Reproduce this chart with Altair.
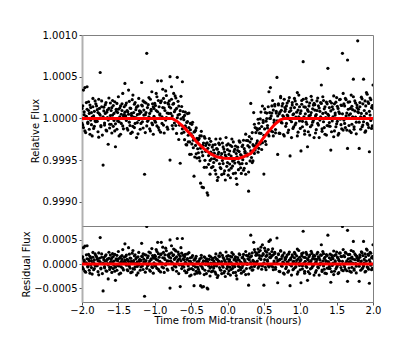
import altair as alt
import numpy as np
import pandas as pd

# observation times, in hundredths of an hour from mid-transit
time_centi_h = [
    -200, -199, -198, -197, -196, -195, -194, -193, -192, -191, -190, -189, -188, -187, -186, -185, -184, -183, -182, -181,
    -180, -179, -178, -177, -176, -175, -174, -173, -172, -171, -170, -169, -168, -167, -166, -165, -164, -163, -162, -161,
    -160, -159, -158, -157, -156, -155, -154, -153, -152, -151, -150, -149, -148, -147, -146, -145, -144, -143, -142, -141,
    -140, -139, -138, -137, -136, -135, -134, -133, -132, -131, -130, -129, -128, -127, -126, -125, -124, -123, -122, -121,
    -120, -119, -118, -117, -116, -115, -114, -113, -112, -111, -110, -109, -108, -107, -106, -105, -104, -103, -102, -101,
    -100, -99, -98, -97, -96, -95, -94, -93, -92, -91, -90, -89, -88, -87, -86, -85, -84, -83, -82, -81,
    -80, -79, -78, -77, -76, -75, -74, -73, -72, -71, -70, -69, -68, -67, -66, -65, -64, -63, -62, -61,
    -60, -59, -58, -57, -56, -55, -54, -53, -52, -51, -50, -49, -48, -47, -46, -45, -44, -43, -42, -41,
    -40, -39, -38, -37, -36, -35, -34, -33, -32, -31, -30, -29, -28, -27, -26, -25, -24, -23, -22, -21,
    -20, -19, -18, -17, -16, -15, -14, -13, -12, -11, -10, -9, -8, -7, -6, -5, -4, -3, -2, -1,
    0, 1, 2, 3, 4, 5, 6, 7, 8, 9, 10, 11, 12, 13, 14, 15, 16, 17, 18, 19,
    20, 21, 22, 23, 24, 25, 26, 27, 28, 29, 30, 31, 32, 33, 34, 35, 36, 37, 38, 39,
    40, 41, 42, 43, 44, 45, 46, 47, 48, 49, 50, 51, 52, 53, 54, 55, 56, 57, 58, 59,
    60, 61, 62, 63, 64, 65, 66, 67, 68, 69, 70, 71, 72, 73, 74, 75, 76, 77, 78, 79,
    80, 81, 82, 83, 84, 85, 86, 87, 88, 89, 90, 91, 92, 93, 94, 95, 96, 97, 98, 99,
    100, 101, 102, 103, 104, 105, 106, 107, 108, 109, 110, 111, 112, 113, 114, 115, 116, 117, 118, 119,
    120, 121, 122, 123, 124, 125, 126, 127, 128, 129, 130, 131, 132, 133, 134, 135, 136, 137, 138, 139,
    140, 141, 142, 143, 144, 145, 146, 147, 148, 149, 150, 151, 152, 153, 154, 155, 156, 157, 158, 159,
    160, 161, 162, 163, 164, 165, 166, 167, 168, 169, 170, 171, 172, 173, 174, 175, 176, 177, 178, 179,
    180, 181, 182, 183, 184, 185, 186, 187, 188, 189, 190, 191, 192, 193, 194, 195, 196, 197, 198, 199,
    200,
]

# residual flux of the first set of exposures at those times (ppm)
resid_a_ppm = [
    120, -80, 340, 45, -150, 10, 190, 380, -60, 95, -130, 160, -20, 70, -210, 140, 30, -95, 210, -40,
    -10, 105, -160, 230, 55, 550, -85, 140, -200, 20, 90, -55, 165, -140, 75, 10, -310, 120, -70, 185,
    95, -175, 40, 155, -25, 200, -65, 110, -130, 70, 260, -40, 125, -190, 50, 175, -90, 30, 140, 420,
    30, 185, -120, 80, 340, -45, 125, -180, 60, 225, -95, 15, 170, -60, 105, -230, 45, 150, -15, 90,
    -130, 75, 160, -40, 210, 100, -670, 45, 185, -90, 130, -20, 250, 60, -150, 110, 320, -75, 140, 25,
    180, -45, 95, 260, 450, -110, 140, 55, -165, 210, 20, 350, -80, 125, 190, -20, 275, 65, -130, 170,
    140, 500, 60, 230, -85, 175, 310, -40, 120, 270, -150, 530, 85, 200, -20, 160, 340, -95, 530, 110,
    -60, 150, 35, -180, 95, 210, -120, 60, -250, 130, 15, -95, 175, -30, 80, -210, 120, -150, 45, -70,
    -110, 70, -190, -450, 125, -60, 30, -470, 150, -130, 55, -200, 100, -520, -40, 170, -85, 20, -160, 90,
    120, -85, 30, -170, 210, -40, 95, -240, 60, 155, -120, 15, -200, 180, -65, 110, -150, 40, 250, -95,
    -50, 175, -140, 90, -230, 30, 145, -90, 200, -20, 110, -175, 60, -310, 135, -45, 80, 190, -120, 25,
    130, -30, 200, -140, 60, 260, -95, 15, 170, -210, 85, 140, 600, -60, 230, -120, 50, 300, -20, 180,
    220, 60, 310, -50, 175, 280, 95, -110, 400, 190, 25, 330, -70, 160, 245, 85, -30, 470, 210, 130,
    150, 260, -60, 190, 30, 240, -110, 120, 540, 70, 210, -150, 95, 280, -35, 160, 40, -190, 230, 85,
    -95, 150, 40, -170, 210, 80, -450, 125, -40, 190, -120, 55, 240, -75, 15, 170, -210, 100, 280, -30,
    60, -390, 170, -100, 230, 20, -150, 135, -45, 200, -340, 85, 150, -200, 40, 265, -80, 115, -25, 180,
    100, -175, 45, 210, -60, 150, -230, 85, 20, 180, -125, 260, -40, 115, -190, 70, 195, -85, 600, 35,
    -50, 205, 90, -160, 140, 20, -220, 175, 65, -100, 250, -35, 120, -180, 60, 230, -75, 155, 780, -140,
    175, -60, 240, 30, -140, 700, 110, -85, 200, 55, -170, 145, 20, 260, -100, 90, 185, -45, 130, 930,
    110, -45, 190, -130, 60, 235, -80, 470, 25, -165, 150, 310, -60, 200, -110, 85, 245, -25, 130, -90,
    400,
]

# residual flux of the second set of exposures at those times (ppm)
resid_b_ppm = [
    -60, 150, -110, 80, 370, -170, 25, 110, -45, 200, 60, -190, 130, -75, 15, 240, -120, 85, -30, 175,
    150, -35, 70, -225, 120, 40, -100, 210, 5, -560, 135, -80, 60, 190, -150, 100, -20, 245, -115, 35,
    -70, 130, 215, -95, 60, -150, -340, 85, 180, -30, 110, -210, 20, 150, -60, 95, 300, -125, 45, 75,
    160, -25, 95, -140, 50, 205, -85, 120, 35, -165, 280, 70, -110, 190, 10, 135, -50, -185, 240, 55,
    85, -60, 430, 150, -115, 40, 195, -170, 70, 780, -35, 165, 20, -125, 230, 90, -55, 175, -190, 120,
    -25, 155, 300, -90, 80, 215, -140, 40, 190, 450, -60, 130, 240, -175, 95, 330, 10, -105, 185, 60,
    210, -500, 125, 380, 30, -120, 190, 95, 290, -60, 150, 45, 250, -200, 110, -470, 70, 225, -35, 180,
    90, -140, 200, 20, -175, 115, -40, 235, -100, 55, -230, 140, 10, -120, -450, 95, -60, 160, -190, 30,
    45, -160, 110, -30, 180, -480, -95, 65, -220, 135, -15, 85, -500, 40, -145, 95, -250, 150, -55, 10,
    -140, 65, -35, 140, -210, 100, -280, 35, 170, -75, 225, -130, 50, -30, 135, -185, 75, -260, 20, 160,
    105, -200, 50, -65, 160, -115, 235, -30, -180, 85, -55, 150, -240, 20, 95, -135, 210, -70, 40, -190,
    -75, 145, -160, 95, 40, -220, 180, -10, 110, -440, 210, -85, 30, 165, -130, 75, 450, -50, 250, 20,
    40, 190, -85, 250, 120, -20, 350, 165, -40, 215, -440, 90, 275, -120, 180, 55, 300, -60, 140, 500,
    -30, 175, 315, -120, 60, 220, -70, 140, 20, -390, 195, 80, -160, 265, 110, -45, 185, 25, -210, 130,
    110, -60, 185, 30, -140, 250, -15, 95, -230, 160, 45, -100, 130, 210, -55, 75, 310, -165, 20, 140,
    -120, 90, 215, -35, 680, 140, -190, 55, 240, -70, 105, -160, 30, 185, -100, 70, 220, -45, 160, -230,
    165, 30, -135, 95, 245, -80, 125, -20, 190, 400, -155, 60, 215, -110, 140, 10, -200, 175, 50, -90,
    130, -95, -380, 185, -30, 110, 270, -150, 40, 195, -65, 145, -200, 80, 225, -10, 160, -125, 55, 300,
    -20, 150, -110, 225, 65, -360, 195, 40, -150, 120, 280, -70, 105, 470, -130, 210, 15, -185, 160, 80,
    70, -360, 140, 20, 255, -100, 175, -40, 95, 210, -150, 60, 290, -75, 180, -400, 40, 225, -120, 155,
    120,
]

# transit model (red curve): vertices
model_t = [-2.0, -0.76, -0.70, -0.60, -0.50, -0.42, -0.33, -0.23, -0.15, -0.05,
           0.05, 0.15, 0.22, 0.32, 0.42, 0.55, 0.65, 0.72, 0.78, 2.0]
model_ppm = [0, 0, -30, -105, -200, -285, -360, -425, -462, -478,
             -482, -480, -462, -420, -320, -170, -70, -20, 0, 0]

top_yticks = [0.9990, 0.9995, 1.0000, 1.0005, 1.0010]
bot_yticks = [-0.0005, 0.0, 0.0005]
x_ticks = [-2.0, -1.5, -1.0, -0.5, 0.0, 0.5, 1.0, 1.5, 2.0]

t = np.array(time_centi_h) / 100.0
model_at_t = np.interp(t, model_t, model_ppm)
rows = []
for res in (resid_a_ppm, resid_b_ppm):
    for ti, m, r in zip(t, model_at_t, res):
        rows.append({"t": ti, "flux": 1.0 + (m + r) * 1e-6, "resid": r * 1e-6})
pts = pd.DataFrame(rows)
model_df = pd.DataFrame({"t": model_t, "flux": [1.0 + v * 1e-6 for v in model_ppm]})
zero_df = pd.DataFrame({"t": [model_t[0], model_t[-1]], "resid": [0.0, 0.0]})

xscale = alt.Scale(domain=[-2, 2], nice=False, zero=False)
W = 291
DOT = 10

top_pts = alt.Chart(pts).mark_circle(size=DOT, color="black", opacity=1, clip=True).encode(
    x=alt.X("t:Q", scale=xscale, axis=None),
    y=alt.Y("flux:Q", scale=alt.Scale(domain=[0.99871, 1.0010], nice=False, zero=False),
            axis=alt.Axis(values=top_yticks, tickCount=len(top_yticks), format=".4f",
                          title="Relative Flux")),
)
top_line = alt.Chart(model_df).mark_line(color="#ff0000", strokeWidth=3, clip=True).encode(
    x=alt.X("t:Q", scale=xscale), y=alt.Y("flux:Q"))
top = alt.layer(top_pts, top_line).properties(width=W, height=191)

bot_pts = alt.Chart(pts).mark_circle(size=DOT, color="black", opacity=1, clip=True).encode(
    x=alt.X("t:Q", scale=xscale,
            axis=alt.Axis(values=x_ticks, tickCount=len(x_ticks), format=".1f",
                          title="Time from Mid-transit (hours)",
                          labelPadding=0, titlePadding=0)),
    y=alt.Y("resid:Q", scale=alt.Scale(domain=[-0.00079, 0.00079], nice=False, zero=False),
            axis=alt.Axis(values=bot_yticks, tickCount=len(bot_yticks), format=".4f",
                          title="Residual Flux")),
)
bot_line = alt.Chart(zero_df).mark_line(color="#ff0000", strokeWidth=3, clip=True).encode(
    x=alt.X("t:Q", scale=xscale), y=alt.Y("resid:Q"))
bot = alt.layer(bot_pts, bot_line).properties(width=W, height=76)

chart = alt.vconcat(top, bot, spacing=0, bounds="flush").properties(
    padding={"left": 13, "top": 21, "right": 5, "bottom": 5}
).configure_view(stroke="#808080", strokeWidth=1).configure_axis(
    labelFont="DejaVu Sans", titleFont="DejaVu Sans", labelFontSize=10, titleFontSize=10,
    titleFontWeight="normal", labelColor="black", titleColor="black", grid=False,
    tickColor="#555555", tickSize=3, labelPadding=2, titlePadding=2,
    domainColor="#808080", labelOverlap=False, labelFlush=False,
).configure_axisY(domainColor="#b0b0b0", domainWidth=2)

chart.save("out.html", embed_options={"renderer": "svg", "actions": False})
